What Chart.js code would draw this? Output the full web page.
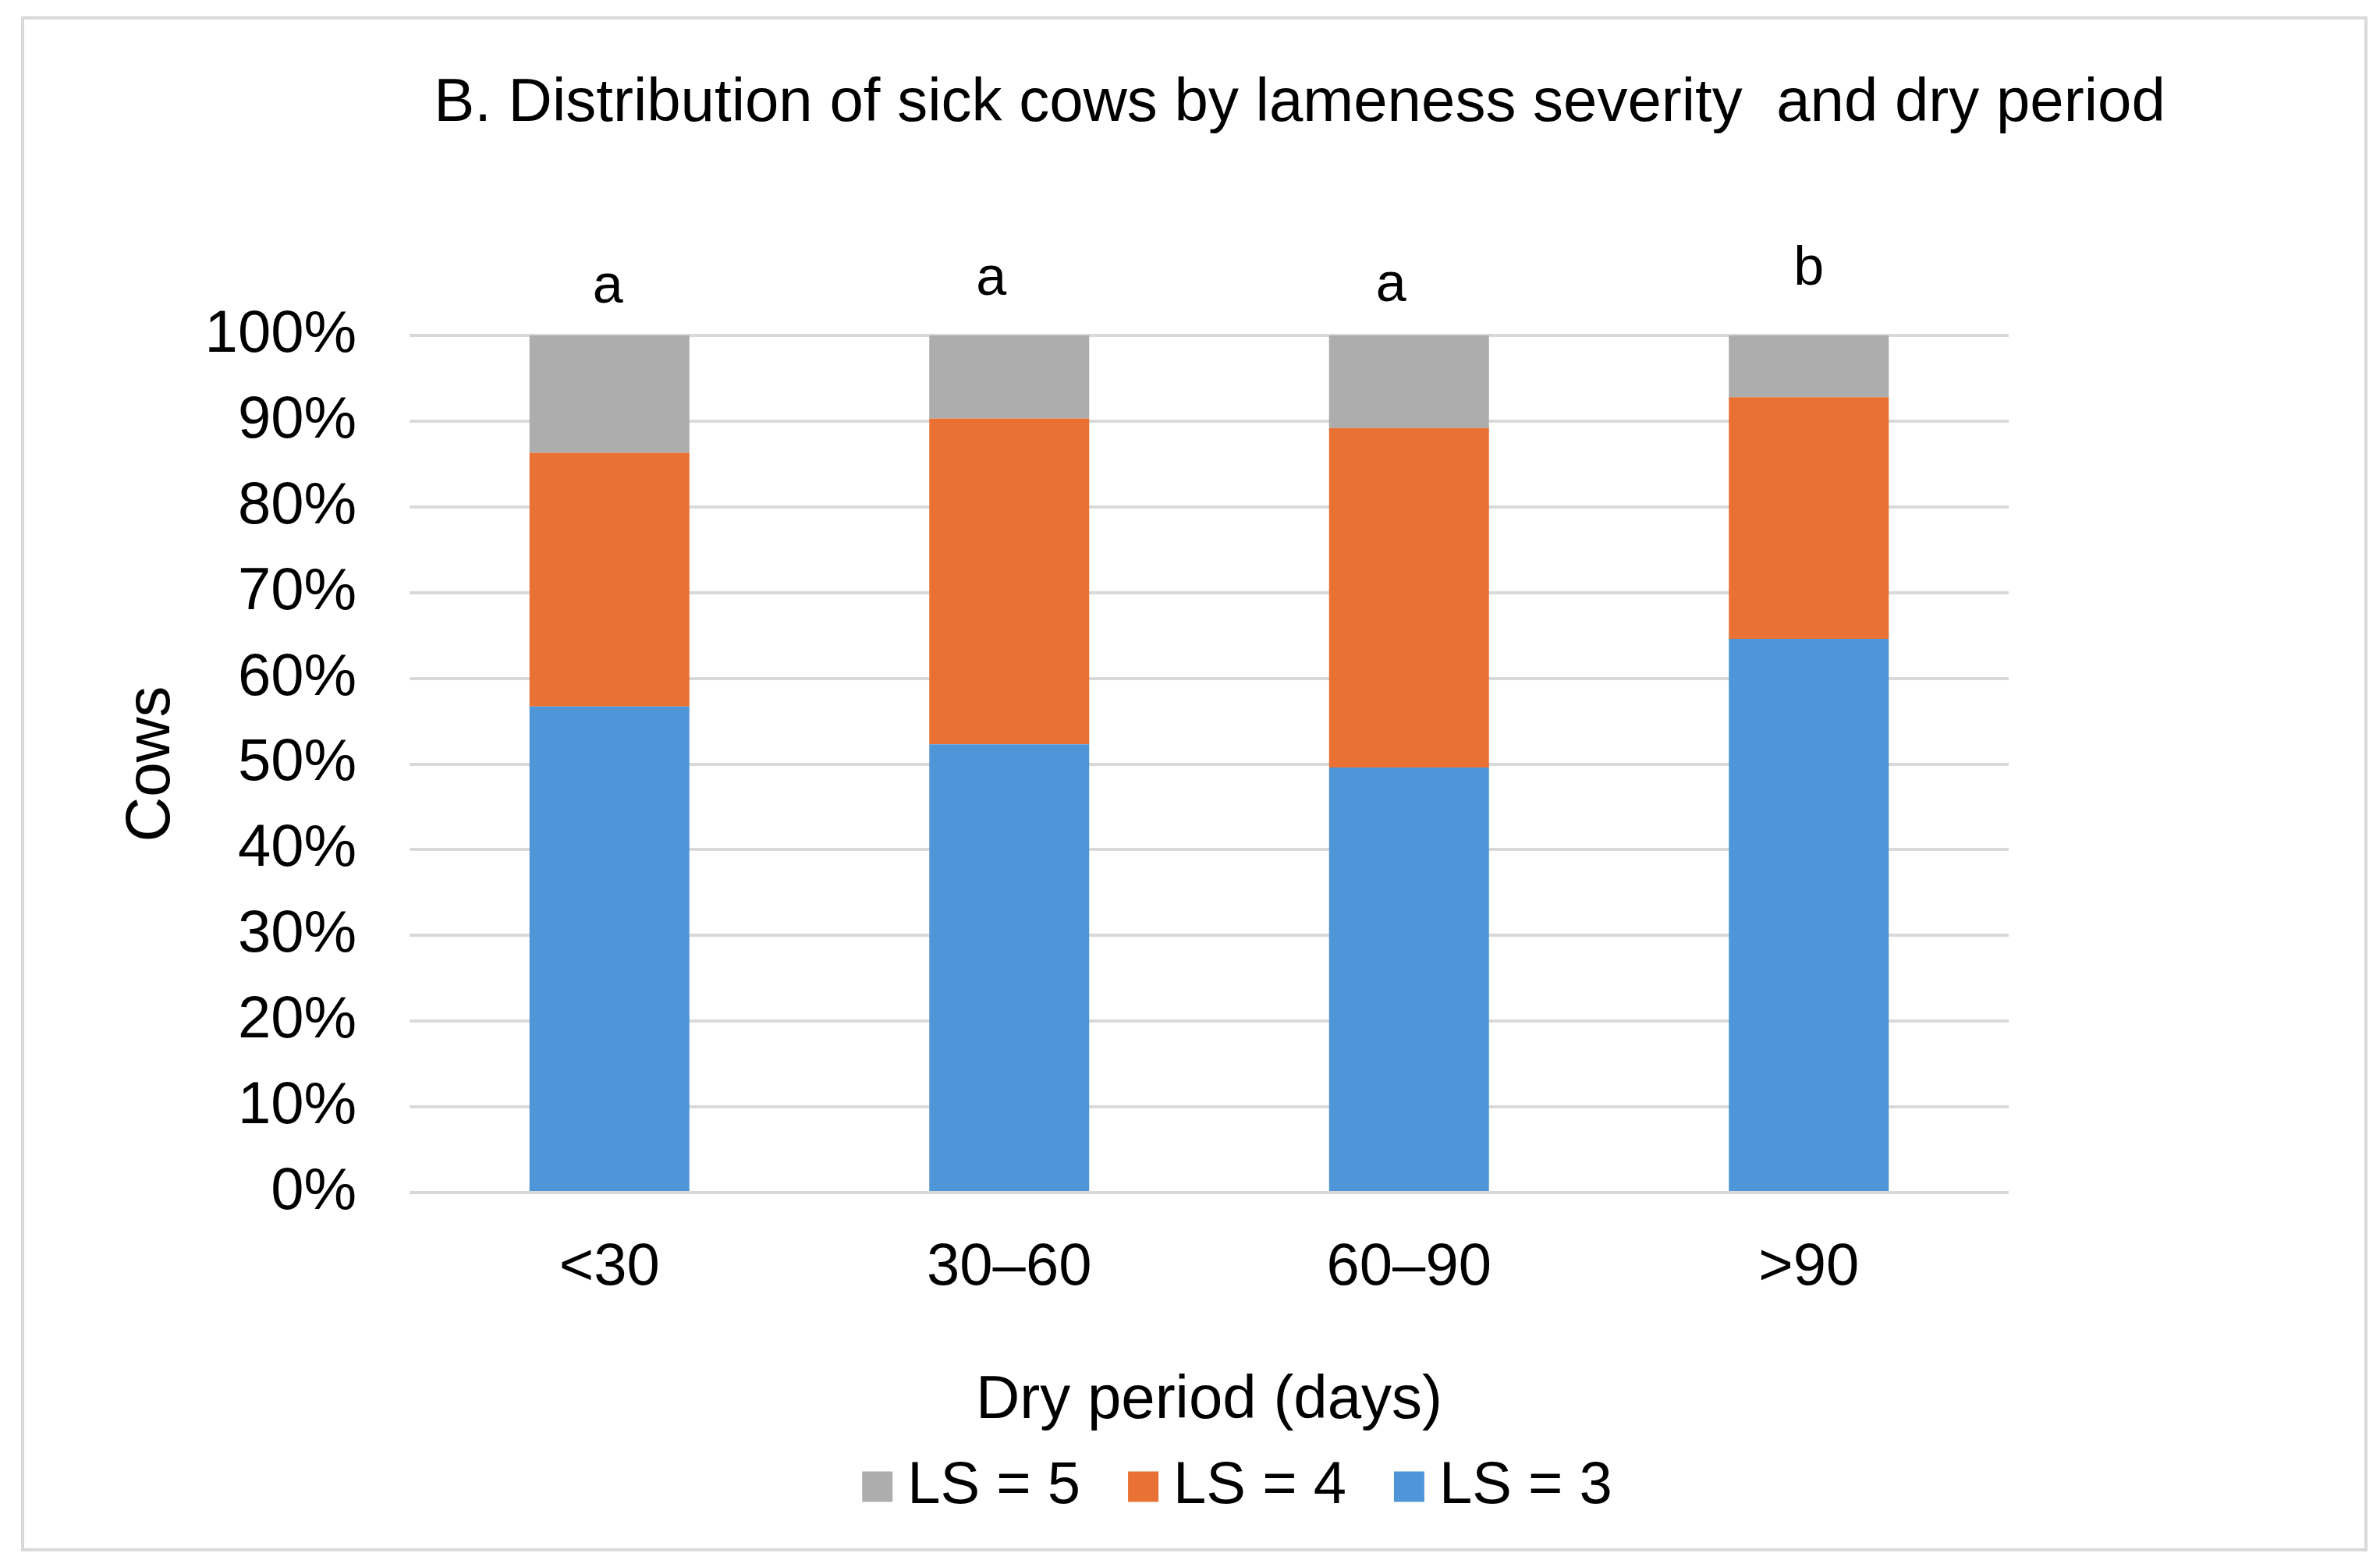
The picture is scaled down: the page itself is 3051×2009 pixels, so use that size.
<!DOCTYPE html>
<html>
<head>
<meta charset="utf-8">
<script src="https://cdn.jsdelivr.net/npm/chart.js@4"></script>
<style>
html,body{margin:0;padding:0;background:#fff;}
canvas{display:block;}
</style>
</head>
<body>
<canvas id="c" width="3051" height="2009" style="width:3051px;height:2009px"></canvas>
<script>
// ---- data ----
const categories = ['<30', '30–60', '60–90', '>90'];
const ls3 = [56.7, 52.3, 49.6, 64.6];
const ls4 = [29.6, 38.0, 39.6, 28.2];
const ls5 = [13.7, 9.7, 10.8, 7.2];
const seriesLabels = ['LS = 3', 'LS = 4', 'LS = 5'];
const groupLetters = ['a', 'a', 'a', 'b'];
const titleText = 'B. Distribution of sick cows by lameness severity  and dry period';
const xTitle = 'Dry period (days)';
const yTitle = 'Cows';

const FONT = '"Liberation Sans", Arial, Helvetica, sans-serif';
const colors = ['#4F96D8', '#E87133', '#ADADAD'];

const decor = {
  id: 'decor',
  beforeDraw(chart) {
    const ctx = chart.ctx;
    ctx.save();
    ctx.fillStyle = '#ffffff';
    ctx.fillRect(0, 0, chart.width, chart.height);
    ctx.strokeStyle = '#D9D9D9';
    ctx.lineWidth = 4;
    ctx.strokeRect(29, 23, 3004, 1964);
    ctx.restore();
  },
  afterDraw(chart) {
    const ctx = chart.ctx;
    const area = chart.chartArea;
    ctx.save();
    // title
    ctx.fillStyle = '#000';
    ctx.font = '78px ' + FONT;
    ctx.textAlign = 'center';
    ctx.textBaseline = 'alphabetic';
    ctx.fillText(titleText, 1666, 155);
    // significance letters (hand-placed text boxes in the original)
    const letterLift = [42, 52, 44, 65];
    const letterShift = [-2, -23, -23, 0];
    ctx.font = '70px ' + FONT;
    groupLetters.forEach((l, i) => {
      const x = chart.scales.x.getPixelForValue(i) + letterShift[i];
      ctx.fillText(l, x, area.top - letterLift[i]);
    });
    // legend (reverse order)
    const items = chart.data.datasets.slice().reverse().map(d => ({label: d.label, color: d.backgroundColor}));
    ctx.font = '76px ' + FONT;
    ctx.textAlign = 'left';
    ctx.textBaseline = 'middle';
    const box = 39, gap = 19, spacing = 61;
    const widths = items.map(it => box + gap + ctx.measureText(it.label).width);
    const total = widths.reduce((a, b) => a + b, 0) + spacing * (items.length - 1);
    let x = 1586 - total / 2;
    const yc = 1906;
    items.forEach((it, i) => {
      ctx.fillStyle = it.color;
      ctx.fillRect(x, yc - box / 2, box, box);
      ctx.fillStyle = '#000';
      ctx.fillText(it.label, x + box + gap, yc);
      x += widths[i] + spacing;
    });
    ctx.restore();
  }
};

new Chart(document.getElementById('c'), {
  type: 'bar',
  data: {
    labels: categories,
    datasets: [
      {label: seriesLabels[0], data: ls3, backgroundColor: colors[0]},
      {label: seriesLabels[1], data: ls4, backgroundColor: colors[1]},
      {label: seriesLabels[2], data: ls5, backgroundColor: colors[2]}
    ]
  },
  options: {
    responsive: false,
    animation: false,
    devicePixelRatio: 1,
    layout: {padding: {top: 430, right: 476, bottom: 0, left: 0}},
    datasets: {bar: {categoryPercentage: 1.0, barPercentage: 0.4, borderWidth: 0}},
    plugins: {
      legend: {display: false},
      tooltip: {enabled: false},
      title: {display: false}
    },
    scales: {
      x: {
        stacked: true,
        grid: {display: false},
        border: {display: false},
        ticks: {color: '#000', font: {family: FONT, size: 76}, padding: 43, maxRotation: 0},
        title: {display: true, text: xTitle, color: '#000', font: {family: FONT, size: 78}, padding: {top: 0, bottom: 166}},
        afterFit: s => { s.height = 480; }
      },
      y: {
        stacked: true,
        min: 0,
        max: 100,
        ticks: {stepSize: 10, color: '#000', font: {family: FONT, size: 76}, padding: 68, callback: v => v + '%'},
        grid: {color: '#D9D9D9', lineWidth: 4, drawTicks: false},
        border: {display: false},
        title: {display: true, text: yTitle, color: '#000', font: {family: FONT, size: 80}, padding: {top: 147, bottom: 0}},
        afterFit: s => { s.width = 525; }
      }
    }
  },
  plugins: [decor]
});
</script>
</body>
</html>
